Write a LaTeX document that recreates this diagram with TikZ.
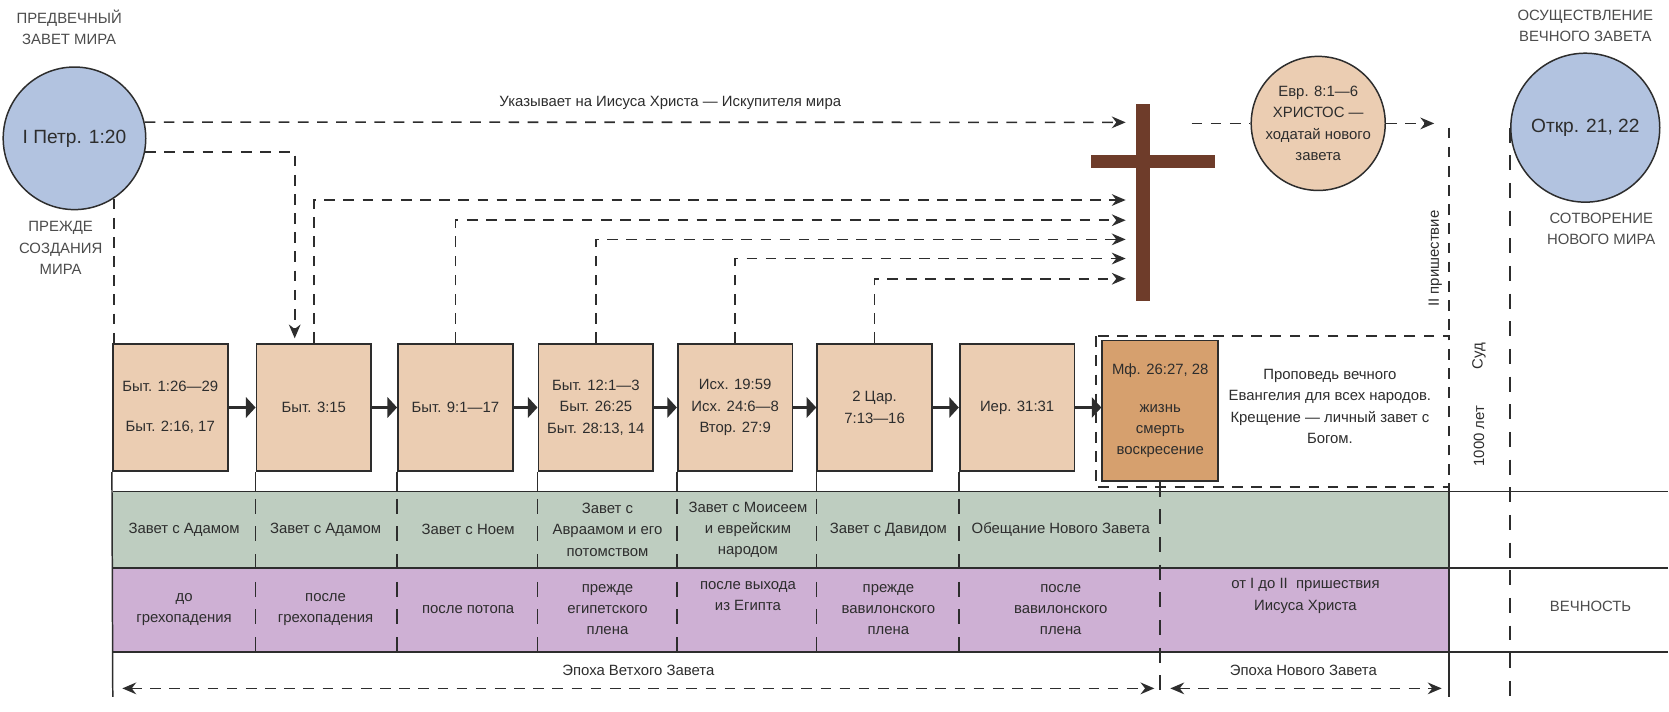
\documentclass[tikz,border=0pt]{standalone}
\usepackage{fontspec}
\setmainfont{Liberation Sans}
\usetikzlibrary{arrows.meta}
\definecolor{boxtan}{RGB}{235,205,178}
\definecolor{boxorange}{RGB}{214,160,110}
\definecolor{circblue}{RGB}{178,195,224}
\definecolor{bandgreen}{RGB}{190,205,192}
\definecolor{bandviolet}{RGB}{206,176,212}
\definecolor{crossbrown}{RGB}{110,60,42}
\definecolor{ink}{RGB}{45,45,45}
\tikzset{
  every node/.style={font=\fontsize{14}{20}\selectfont, text=ink, align=center},
  verse/.style={draw=ink, line width=1.6pt, fill=boxtan, minimum width=108pt, minimum height=120pt, inner sep=0pt},
  disc/.style={circle, draw=ink, line width=1.4pt, inner sep=0pt},
  dsh/.style={draw=ink, line width=1.5pt, dash pattern=on 10pt off 8pt},
  vdsh/.style={draw=ink, line width=1.4pt, dash pattern=on 14pt off 12pt},
  tick/.style={draw=ink, line width=1.4pt},
  caps/.style={text=ink!85},
}
\begin{document}
\begin{tikzpicture}[>={Stealth[length=13pt,width=11pt]}, x=1pt, y=-1pt]
\fill[white] (0,0) rectangle (1568,669);

\node[disc, fill=circblue, minimum size=134pt, font=\fontsize{18}{20}\selectfont] (lc) at (70,130) {I Петр. 1:20};
\node[disc, fill=boxtan, minimum size=126pt] (ec) at (1239,116) {Евр. 8:1—6\\ХРИСТОС —\\ходатай нового\\завета};
\node[disc, fill=circblue, minimum size=140pt, font=\fontsize{18}{20}\selectfont] (oc) at (1490,120) {Откр. 21, 22};
\node[caps] (pre) at (65,26) {ПРЕДВЕЧНЫЙ\\ЗАВЕТ МИРА};
\node[caps] (bef) at (57,233) {ПРЕЖДЕ\\СОЗДАНИЯ\\МИРА};
\node[caps] (ful) at (1490,24) {ОСУЩЕСТВЛЕНИЕ\\ВЕЧНОГО ЗАВЕТА};
\node[caps] (new) at (1505,215) {СОТВОРЕНИЕ\\НОВОГО МИРА};

\foreach \n/\x/\t in {1/160/{Быт. 1:26—29\\[18pt]Быт. 2:16, 17}, 2/295/{Быт. 3:15}, 3/428/{Быт. 9:1—17},
  4/560/{Быт. 12:1—3\\Быт. 26:25\\Быт. 28:13, 14}, 5/691/{Исх. 19:59\\Исх. 24:6—8\\Втор. 27:9},
  6/822/{2 Цар.\\7:13—16}, 7/956/{Иер. 31:31}}
{
    \node[verse] (b\n) at (\x,383) {\t};
}
\node[verse, fill=boxorange, minimum width=109pt, minimum height=132pt] (b8) at (1090.5,386) {Мф. 26:27, 28\\[16pt]жизнь\\смерть\\воскресение};
\foreach \a/\b in {1/2,2/3,3/4,4/5,5/6,6/7,7/8}
{
    \draw[ink, line width=2.6pt, -{Triangle[length=9pt,width=19pt]}] (b\a.east) -- (b\b.west |- b\a.east);
}

\fill[crossbrown] (1068,98) rectangle (1081,283);
\fill[crossbrown] (1025,146) rectangle (1142,158);

\coordinate (xt) at (1058,115);
\coordinate (da) at (277,318);
\coordinate (xc) at (1120,116);
\coordinate (xe) at (1348,116);
\draw[dsh, ->] (lc.13) -- (xt);
\node (via) at (630,97) {Указывает на Иисуса Христа — Искупителя мира};
\draw[dsh, ->] (lc.-11) -| (da);
\draw[dsh] (lc.-57) -- (lc.-57 |- b1.north);
\foreach \n/\y in {2/188, 3/207, 4/225, 5/243, 6/262}
{
    \coordinate (arr\n) at (1058,\y);
    \draw[dsh, ->] (b\n.north) |- (arr\n);
}
\draw[dsh] (xc) -- (ec.west);
\draw[dsh, ->] (ec.east) -- (xe);

\draw[dsh] (1362,120) -- (1362,316);
\draw[dsh] (1030,316) rectangle (1362,458);
\node (gos) at (1250,382) {Проповедь вечного\\Евангелия для всех народов.\\Крещение — личный завет с\\Богом.};
\node[rotate=90] (adv) at (1349,243) {II пришествие};
\node[rotate=90] (jud) at (1390,335) {Суд};
\node[rotate=90] (mil) at (1390,410) {1000 лет};

\fill[bandgreen] (106,462) rectangle (1362,534);
\fill[bandviolet] (106,534) rectangle (1362,613);
\foreach \y in {462,534,613}
{
    \draw[tick] (106,\y) -- (1568,\y);
}
\draw[tick] (b1.south west) -- (106,655);
\draw[tick] (1362,458) -- (1362,655);
\foreach \n in {2,...,7}
{
    \draw[tick] (b\n.south west) -- ++(0,19);
    \draw[vdsh] (b\n.south west) ++(0,25) -- ++(0,145);
}
\draw[vdsh] (b8.south) -- (b8.south |- 0,655);
\draw[vdsh] (oc.west) -- (oc.west |- 0,655);

\foreach \n/\x/\t in {1/173/{Завет с Адамом}, 2/306/{Завет с Адамом}, 3/440/{Завет с Ноем},
  4/571/{Завет с\\Авраамом и его\\потомством}, 5/703/{Завет с Моисеем\\и еврейским\\народом},
  6/835/{Завет с Давидом}, 7/997/{Обещание Нового Завета}}
{
    \node (g\n) at (\x,498) {\t};
}
\foreach \n/\x/\y/\t in {1/173/573/{до\\грехопадения}, 2/306/573/{после\\грехопадения}, 3/440/573/{после потопа},
  4/571/573/{прежде\\египетского\\плена}, 5/703/560/{после выхода\\из Египта},
  6/835/573/{прежде\\вавилонского\\плена}, 7/997/573/{после\\вавилонского\\плена},
  8/1227/560/{от I до II \ пришествия\\Иисуса Христа}}
{
    \node (p\n) at (\x,\y) {\t};
}
\node[caps] (eter) at (1495,570) {ВЕЧНОСТЬ};

\coordinate (ot1) at (115,647);
\coordinate (ot2) at (1085,647);
\coordinate (nt1) at (1100,647);
\coordinate (nt2) at (1355,647);
\draw[dsh, <->] (ot1) -- (ot2);
\draw[dsh, <->] (nt1) -- (nt2);
\node (old) at (600,630) {Эпоха Ветхого Завета};
\node (nw) at (1225,630) {Эпоха Нового Завета};

\end{tikzpicture}
\end{document}
